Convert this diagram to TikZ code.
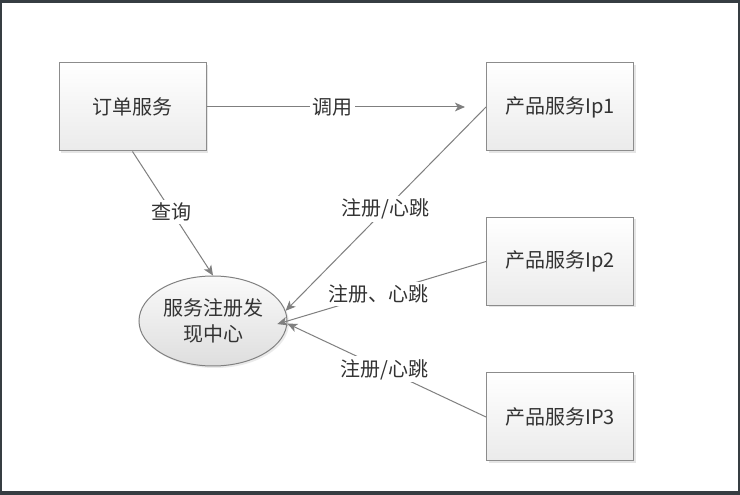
\documentclass[tikz,border=0pt]{standalone}
\usepackage{fontspec}
\setmainfont{Noto Sans CJK SC}
\usepackage{tikz}
\usetikzlibrary{arrows.meta, shapes.geometric, shadows}
\definecolor{framegray}{HTML}{363D42}
\definecolor{linegray}{HTML}{7F7F7F}

\begin{document}
\begin{tikzpicture}[x=0.75pt, y=-0.75pt,
    font=\fontsize{15pt}{20pt}\selectfont, text=black!80,
    box/.style={draw=black!45, line width=0.75pt, top color=white, bottom color=black!8,
      minimum width=110.25pt, minimum height=66pt, inner sep=0pt,
      drop shadow={shadow xshift=1.5pt, shadow yshift=-1.5pt, opacity=0.25, fill=black!40}},
    hub/.style={ellipse, draw=black!50, line width=0.75pt, top color=black!2, bottom color=black!13,
      minimum width=111pt, minimum height=67.5pt, inner sep=0pt, align=center,
      drop shadow={shadow xshift=1.5pt, shadow yshift=-1.5pt, opacity=0.2, fill=black!40}},
    link/.style={draw=linegray, line width=0.75pt, -{Stealth[length=7.5pt, width=6.5pt, inset=2pt]}},
    tag/.style={fill=white, inner sep=2pt}]

    % frame round the page
    \fill[framegray] (0,0) rectangle (740,495);
    \fill[white] (2,3) rectangle (738,491);

    \node[box] (order) at (132.5,107) {订单服务};
    \node[box] (ip1) at (560,107) {产品服务Ip1};
    \node[box] (ip2) at (560,261.5) {产品服务Ip2};
    \node[box] (ip3) at (560,417) {产品服务IP3};
    \node[hub] (reg) at (213,321) {服务注册发\\现中心};

    % calls and heartbeats
    \draw[link, shorten >=15.75pt] (order.east) -- node[tag, pos=0.45]{调用} (ip1.west);
    \draw[link] (order.south) -- node[tag, pos=0.49]{查询} (reg.north);
    \draw[link] (ip1.west) -- node[tag, pos=0.5]{注册/心跳} (reg.8);
    \draw[link, shorten >=-8pt] (ip2.west) -- node[tag, pos=0.54]{注册、心跳} (reg.east);
    \draw[link] (ip3.west) -- node[tag, pos=0.51]{注册/心跳} (reg.-2);
\end{tikzpicture}
\end{document}
